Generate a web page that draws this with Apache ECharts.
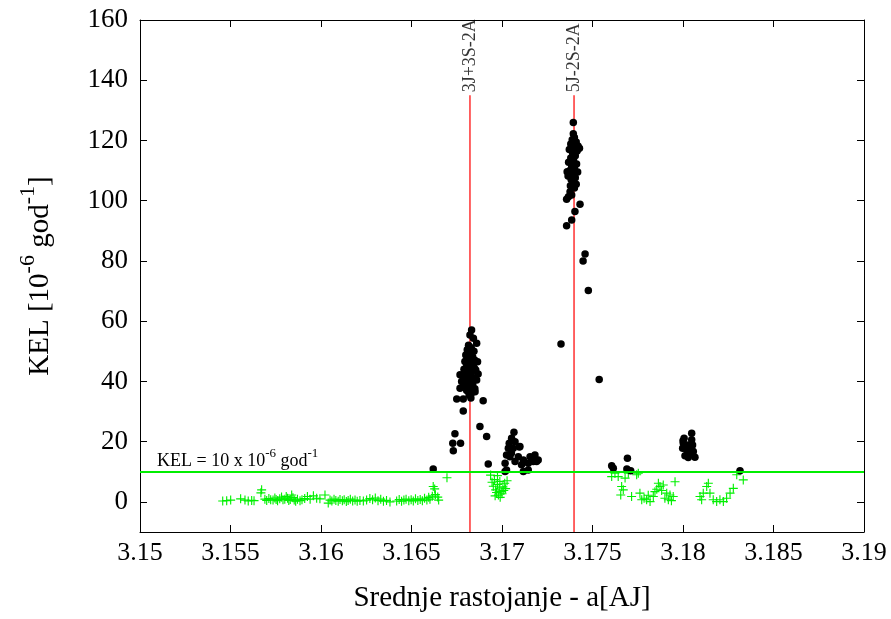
<!DOCTYPE html>
<html>
<head>
<meta charset="utf-8">
<script src="https://cdn.jsdelivr.net/npm/echarts@6/dist/echarts.min.js"></script>
<style>html,body{margin:0;padding:0;background:#fff;}#c{width:891px;height:619px;}</style>
</head>
<body>
<div id="c"></div>
<script>
// ---- data ----
const xTicks = [3.15, 3.155, 3.16, 3.165, 3.17, 3.175, 3.18, 3.185, 3.19];
const yTicks = [0, 20, 40, 60, 80, 100, 120, 140, 160];
const xRange = [3.15, 3.19];
const yRange = [-10, 160];
const kelThreshold = 10;
const resonanceNames = ['3J+3S-2A', '5J-2S-2A'];
const resonanceA = [3.16823, 3.17398];
const resonanceTop = 135;

// green crosses: KEL below threshold
const lowKel = [
  [3.15457,0.3],[3.15479,0.4],[3.15501,0.6],[3.15556,1.0],[3.15580,0.6],[3.15598,0.3],[3.15617,0.5],[3.15630,0.4],
  [3.15672,4.0],[3.15668,3.0],[3.15690,0.9],[3.15700,0.5],[3.15712,1.1],[3.15722,0.7],[3.15735,0.6],[3.15745,1.3],
  [3.15752,0.8],[3.15760,0.4],[3.15772,1.0],[3.15782,1.6],[3.15790,0.7],[3.15800,0.9],[3.15808,1.8],[3.15815,1.2],
  [3.15822,0.5],[3.15830,0.8],[3.15838,2.3],[3.15845,1.4],[3.15852,0.6],[3.15860,0.2],[3.15870,0.9],[3.15884,0.4],
  [3.15895,0.7],[3.15910,1.1],[3.15925,1.8],[3.15940,0.9],[3.15958,2.0],[3.15976,1.2],[3.15994,1.0],[3.16022,2.3],
  [3.16040,-0.4],[3.16050,0.6],[3.16060,0.3],[3.16072,0.9],[3.16082,0.5],[3.16095,0.2],[3.16105,0.8],[3.16118,0.4],
  [3.16128,0.7],[3.16140,0.1],[3.16150,0.5],[3.16162,0.9],[3.16175,0.3],[3.16188,0.6],[3.16200,0.2],[3.16215,0.5],
  [3.16234,0.3],[3.16252,0.6],[3.16270,1.1],[3.16285,0.7],[3.16300,1.3],[3.16315,0.4],[3.16330,0.9],[3.16345,0.2],
  [3.16362,0.5],[3.16381,0.0],[3.16418,0.3],[3.16432,0.8],[3.16445,0.2],[3.16458,0.6],[3.16470,0.9],[3.16485,0.4],
  [3.16498,0.7],[3.16510,0.3],[3.16522,1.0],[3.16535,0.5],[3.16548,0.8],[3.16560,0.4],[3.16572,1.2],[3.16585,0.6],
  [3.16595,1.5],[3.16602,0.9],[3.16620,5.1],[3.16628,4.3],[3.16615,1.9],[3.16632,2.4],[3.16645,1.6],[3.16650,0.6],
  [3.16696,8.0],
  [3.16937,8.9],[3.16945,6.5],[3.16952,5.2],[3.16958,7.4],[3.16965,4.0],[3.16970,3.1],[3.16975,5.8],[3.16980,2.3],
  [3.16985,4.6],[3.16990,1.5],[3.16995,3.4],[3.17000,2.7],[3.17005,5.0],[3.17010,3.8],[3.17015,6.2],[3.17020,4.4],
  [3.17028,7.0],[3.16962,2.0],[3.16988,6.8],[3.16975,8.7],
  [3.17606,8.4],[3.17624,9.5],[3.17642,8.4],[3.17661,5.1],[3.17670,4.0],[3.17656,2.3],[3.17680,7.9],[3.17698,9.5],
  [3.17744,9.0],[3.17753,9.5],[3.17716,1.8],[3.17762,2.9],[3.17772,0.7],[3.17799,0.7],[3.17818,0.1],[3.17836,1.8],
  [3.17845,3.4],[3.17864,6.2],[3.17873,5.1],[3.17891,5.6],[3.17910,2.9],[3.17919,0.7],[3.17928,2.3],[3.17946,1.8],
  [3.17956,6.7],[3.17785,1.2],[3.17808,2.2],[3.17855,4.2],[3.17882,3.8],[3.17900,1.2],[3.17936,0.4],
  [3.18094,1.8],[3.18103,0.7],[3.18112,2.9],[3.18131,5.1],[3.18140,6.2],[3.18149,2.9],[3.18167,0.7],[3.18186,0.1],
  [3.18204,0.7],[3.18223,0.1],[3.18241,1.2],[3.18260,2.9],[3.18278,4.5],[3.18297,9.0],[3.18333,7.3]
];

// black dots: KEL above threshold
const highKel = [
  [3.16620,10.9],
  [3.16832,57.1],[3.16823,55.4],[3.16842,54.3],[3.16860,52.7],[3.16815,52.0],[3.16830,51.2],[3.16808,50.5],[3.16845,50.0],
  [3.16820,49.3],[3.16800,48.8],[3.16838,48.1],[3.16812,47.5],[3.16850,47.0],[3.16795,46.6],[3.16828,46.2],[3.16805,45.5],
  [3.16842,45.0],[3.16818,44.6],[3.16790,44.0],[3.16855,43.8],[3.16832,43.2],[3.16800,42.7],[3.16868,42.5],[3.16815,42.0],
  [3.16785,41.6],[3.16845,41.2],[3.16825,40.7],[3.16798,40.2],[3.16860,40.5],[3.16810,39.6],[3.16838,39.0],[3.16790,38.5],
  [3.16822,38.0],[3.16850,37.6],[3.16805,37.0],[3.16835,36.3],[3.16818,35.5],[3.16828,34.5],[3.16768,42.2],[3.16777,40.0],
  [3.16768,37.7],[3.16851,36.6],[3.16750,34.2],[3.16786,34.2],[3.16896,33.6],[3.16786,30.2],[3.16878,25.0],[3.16915,21.7],
  [3.16740,22.6],[3.16728,19.5],[3.16771,19.5],[3.16731,17.0],[3.16924,12.6],[3.16835,49.8],[3.16825,47.8],[3.16810,46.0],
  [3.16848,44.3],[3.16802,43.5],[3.16865,46.5],
  [3.17066,23.1],[3.17053,21.1],[3.17040,19.5],[3.17072,20.0],[3.17035,17.8],[3.17062,17.8],[3.17099,18.4],[3.17025,15.6],
  [3.17052,16.2],[3.17090,15.0],[3.17118,13.9],[3.17155,15.0],[3.17182,15.6],[3.17200,13.9],[3.17173,13.4],[3.17145,12.8],
  [3.17017,12.8],[3.17025,10.6],[3.17072,13.4],[3.17108,12.3],[3.17118,10.1],[3.17145,10.6],[3.17044,15.0],[3.17096,18.2],
  [3.17191,13.4],[3.17017,10.1],
  [3.17394,126.0],[3.17394,122.2],[3.17400,121.0],[3.17388,120.2],[3.17410,119.5],[3.17380,118.8],[3.17420,118.2],[3.17398,117.6],
  [3.17372,117.0],[3.17415,116.5],[3.17390,115.8],[3.17428,117.4],[3.17405,114.9],[3.17380,114.2],[3.17395,113.5],[3.17368,112.8],
  [3.17412,112.2],[3.17385,111.5],[3.17400,110.8],[3.17375,110.0],[3.17418,109.5],[3.17390,108.8],[3.17365,108.2],[3.17405,107.6],
  [3.17382,107.0],[3.17395,106.2],[3.17410,105.5],[3.17360,109.6],[3.17378,105.0],[3.17400,104.2],[3.17376,103.0],[3.17367,101.3],
  [3.17385,101.9],[3.17357,100.5],[3.17431,98.8],[3.17403,96.4],[3.17385,93.6],[3.17357,91.7],[3.17459,82.3],[3.17448,80.0],
  [3.17477,70.2],[3.17326,52.4],[3.17537,40.6],
  [3.17606,12.0],[3.17615,11.2],[3.17693,14.5],[3.17690,10.9],[3.17711,10.3],
  [3.18048,22.8],[3.18006,21.1],[3.18048,20.6],[3.18002,19.5],[3.18029,18.9],[3.18053,18.9],[3.17998,17.8],[3.18020,17.3],
  [3.18048,17.5],[3.18011,15.3],[3.18029,14.7],[3.18066,14.8],[3.18057,16.7],[3.18000,20.3],[3.18035,16.0],
  [3.18315,10.3]
];

// ---- chart ----
const FONT = 'Liberation Serif';
const fmtX = v => String(parseFloat(Number(v).toFixed(3)));
const crossPath = 'path://M3.5,0H4.5V8H3.5ZM0,3.5H8V4.5H0Z';
const supRich = {
  a: {fontFamily: FONT, fontSize: 29, color: '#000', verticalAlign: 'bottom', lineHeight: 38},
  s: {fontFamily: FONT, fontSize: 22, color: '#000', verticalAlign: 'top', lineHeight: 38}
};
const smallRich = {
  a: {fontFamily: FONT, fontSize: 18, color: '#000', verticalAlign: 'bottom', lineHeight: 24},
  s: {fontFamily: FONT, fontSize: 13, color: '#000', verticalAlign: 'top', lineHeight: 24}
};

function mkX(pos, showLabels) {
  return {
    type: 'value', position: pos, min: xRange[0], max: xRange[1],
    axisLine: {show: true, onZero: false, lineStyle: {color: '#000', width: 1}},
    axisTick: {show: true, inside: true, length: 7, customValues: xTicks, lineStyle: {color: '#000'}},
    axisLabel: {show: showLabels, customValues: xTicks, formatter: fmtX, fontFamily: FONT, fontSize: 26, color: '#000', margin: 8},
    splitLine: {show: false},
    name: showLabels ? 'Srednje rastojanje - a[AJ]' : '',
    nameLocation: 'middle', nameGap: 52,
    nameTextStyle: {fontFamily: FONT, fontSize: 29, color: '#000'}
  };
}
function mkY(pos, showLabels) {
  return {
    type: 'value', position: pos, min: yRange[0], max: yRange[1],
    axisLine: {show: true, onZero: false, lineStyle: {color: '#000', width: 1}},
    axisTick: {show: true, inside: true, length: 7, customValues: yTicks, lineStyle: {color: '#000'}},
    axisLabel: {show: showLabels, customValues: yTicks, fontFamily: FONT, fontSize: 27, color: '#000', margin: 12},
    splitLine: {show: false},
    name: showLabels ? '{a|KEL [10}{s|-6}{a| god}{s|-1}{a|]}' : '',
    nameLocation: 'middle', nameRotate: 90, nameGap: 85,
    nameTextStyle: {rich: supRich}
  };
}

const chart = echarts.init(document.getElementById('c'), null, {renderer: 'canvas'});
const series = [];
resonanceA.forEach((a, i) => {
  series.push({
    type: 'line', data: [[a, yRange[0]], [a, resonanceTop]], symbol: 'none', silent: true,
    lineStyle: {color: '#ff3030', width: 1.5}, z: 1, animation: false
  });
});
series.push({
  type: 'scatter', data: lowKel, symbol: crossPath, symbolSize: 9,
  itemStyle: {color: '#00f000', opacity: 1}, z: 3, animation: false,
  markLine: {
    silent: true, symbol: 'none', animation: false,
    data: [{yAxis: kelThreshold}],
    lineStyle: {color: '#00ee00', width: 2, type: 'solid'},
    label: {show: true, position: 'insideStartTop', distance: [17, 1],
      formatter: '{a|KEL = 10 x 10}{s|-6}{a| god}{s|-1}', rich: smallRich}
  }
});
series.push({
  type: 'scatter', data: highKel, symbol: 'circle', symbolSize: 7.5,
  itemStyle: {color: '#000', opacity: 1}, z: 4, animation: false
});
series.push({
  type: 'scatter', symbolSize: 0, z: 5, animation: false,
  data: resonanceA.map((a, i) => ({name: resonanceNames[i], value: [a, resonanceTop]})),
  label: {show: true, position: 'top', rotate: 90, align: 'left', verticalAlign: 'middle', distance: 3,
    formatter: '{b}', fontFamily: FONT, fontSize: 18, color: '#000'}
});

chart.setOption({
  animation: false,
  backgroundColor: '#fff',
  grid: {left: 140, right: 27, top: 20, bottom: 87, containLabel: false},
  xAxis: [mkX('bottom', true), mkX('top', false)],
  yAxis: [mkY('left', true), mkY('right', false)],
  series: series
});
</script>
</body>
</html>
